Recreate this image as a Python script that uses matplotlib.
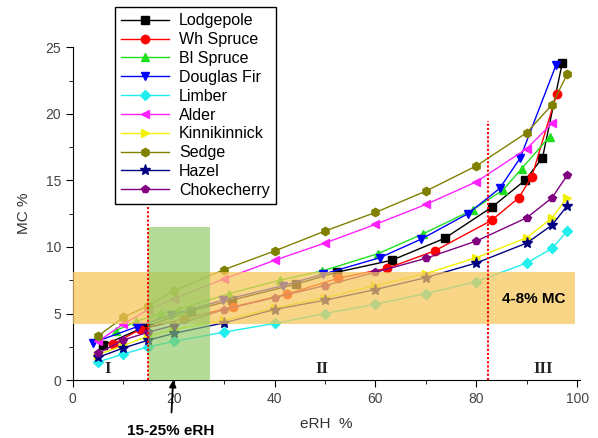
import numpy as np
import matplotlib.pyplot as plt

# --- data (eRH %, MC %) ---
lodge_x = [6, 14.3, 23.4, 31.5, 44.2, 52.3, 63.2, 73.7, 83.1, 89.6, 93.1, 97]
lodge_y = [2.6, 4.0, 5.2, 6.0, 7.2, 8.1, 9.0, 10.65, 13.0, 15.0, 16.7, 23.8]

whsp_x = [8, 13.3, 22, 31.8, 42.4, 52.6, 62.3, 71.7, 83, 88.4, 91, 95.9]
whsp_y = [2.7, 3.8, 4.6, 5.5, 6.45, 7.65, 8.4, 9.7, 12.0, 13.7, 15.3, 21.5]

blsp_x = [8.5, 12.5, 17.5, 21, 31, 41, 49.5, 60.5, 69.5, 79.3, 85.3, 89, 94.5]
blsp_y = [3.7, 4.4, 5.0, 5.3, 6.5, 7.5, 8.2, 9.5, 11.0, 12.8, 14.3, 15.9, 18.3]

dfir_x = [4, 12.7, 19.5, 29.8, 41.7, 49.6, 60.9, 69.1, 78.3, 84.6, 88.7, 95.8]
dfir_y = [2.8, 4.0, 4.9, 6.0, 7.1, 7.95, 9.2, 10.6, 12.5, 14.4, 16.7, 23.7]

erh = [5, 10, 15, 20, 30, 40, 50, 60, 70, 80, 90, 95, 98]
limber_y = [1.35, 1.95, 2.5, 2.9, 3.6, 4.25, 5.0, 5.7, 6.5, 7.4, 8.8, 9.9, 11.2]
alder_y = [2.9, 4.2, 5.3, 6.1, 7.6, 9.0, 10.3, 11.7, 13.2, 14.9, 17.4, 19.3]
kinni_y = [1.9, 2.6, 3.3, 3.8, 4.5, 5.4, 6.2, 7.1, 8.0, 9.2, 10.7, 12.2, 13.7]
sedge_y = [3.3, 4.7, 5.6, 6.7, 8.3, 9.7, 11.2, 12.6, 14.2, 16.1, 18.6, 20.7, 23.0]
hazel_y = [1.7, 2.4, 3.0, 3.5, 4.3, 5.3, 6.0, 6.8, 7.7, 8.8, 10.3, 11.65, 13.1]
choke_y = [2.0, 3.0, 3.6, 4.1, 5.3, 6.2, 7.1, 8.1, 9.15, 10.45, 12.2, 13.7, 15.4]

series = [
    ("Lodgepole", lodge_x, lodge_y, "black", "s"),
    ("Wh Spruce", whsp_x, whsp_y, "red", "o"),
    ("Bl Spruce", blsp_x, blsp_y, "#1fe01f", "^"),
    ("Douglas Fir", dfir_x, dfir_y, "blue", "v"),
    ("Limber", erh, limber_y, "#22eeee", "D"),
    ("Alder", erh[:12], alder_y, "#ff22ff", "<"),
    ("Kinnikinnick", erh, kinni_y, "#f2f200", ">"),
    ("Sedge", erh, sedge_y, "#808000", "h"),
    ("Hazel", erh, hazel_y, "#000080", "*"),
    ("Chokecherry", erh, choke_y, "#800080", "p"),
]

plt.rcParams['font.family'] = ['Liberation Sans', 'DejaVu Sans']

fig = plt.figure(figsize=(5.98, 4.38), dpi=100)
ax = fig.add_axes([0.1216, 0.1324, 0.848, 0.7592])

for name, xs, ys, c, m in series:
    ms = 8 if m == "*" else 6
    if m == "D":
        ms = 5.5
    ax.plot(xs, ys, color=c, marker=m, ms=ms, lw=1, label=name, zorder=3)

# shaded regions
ax.fill_between([0, 99.5], 4.2, 8.15, color="#F7C65B", alpha=0.72, lw=0, zorder=4)
ax.fill_between([15, 27.2], 0, 11.5, color="#8CC860", alpha=0.65, lw=0, zorder=5)

# dotted boundaries
ax.plot([15, 15], [0, 13], color="red", ls=(0, (1, 1)), lw=1.5, zorder=6)
ax.plot([82.4, 82.4], [0, 19.5], color="red", ls=(0, (1, 1)), lw=1.5, zorder=6)

# region labels
for t, xv in [("I", 7), ("II", 49.3), ("III", 93.2)]:
    ax.text(xv, 0.25, t, family="Liberation Serif", fontsize=12, fontweight="bold",
            color="#222222", ha="center", va="bottom", zorder=7)
ax.text(91.3, 6.1, "4-8% MC", fontsize=11, fontweight="bold", ha="center",
        va="center", zorder=7)

ax.annotate("15-25% eRH", xy=(19.9, 0), xytext=(19.4, -3.8), fontsize=11,
            fontweight="bold", ha="center", va="center", annotation_clip=False,
            arrowprops=dict(arrowstyle="-|>", color="black", lw=1.3,
                            shrinkA=6, shrinkB=0, mutation_scale=10))

ax.set_xlim(0, 100.5)
ax.set_ylim(0, 25)
ax.set_xticks([0, 20, 40, 60, 80, 100])
ax.set_xticks([10, 30, 50, 70, 90], minor=True)
ax.set_yticks([0, 5, 10, 15, 20, 25])
ax.set_yticks([2.5, 7.5, 12.5, 17.5, 22.5], minor=True)
ax.tick_params(which="major", length=5, labelsize=10, labelcolor="#444444")
ax.tick_params(which="minor", length=3)
for s in ["top", "right"]:
    ax.spines[s].set_visible(False)
ax.set_xlabel("eRH  %", fontsize=11, color="#333333", labelpad=8)
ax.set_ylabel("MC %", fontsize=11, color="#333333", labelpad=10)

leg = ax.legend(loc="upper left", bbox_to_anchor=(115 / 598, 1 - 7 / 438),
                bbox_transform=fig.transFigure, fontsize=11.5, frameon=True,
                fancybox=False, edgecolor="black", framealpha=1,
                labelspacing=0.24, handlelength=3.0, handletextpad=0.6,
                borderpad=0.4, borderaxespad=0)
leg.get_frame().set_linewidth(1)
leg.set_zorder(10)

fig.savefig("out.png", dpi=100)
